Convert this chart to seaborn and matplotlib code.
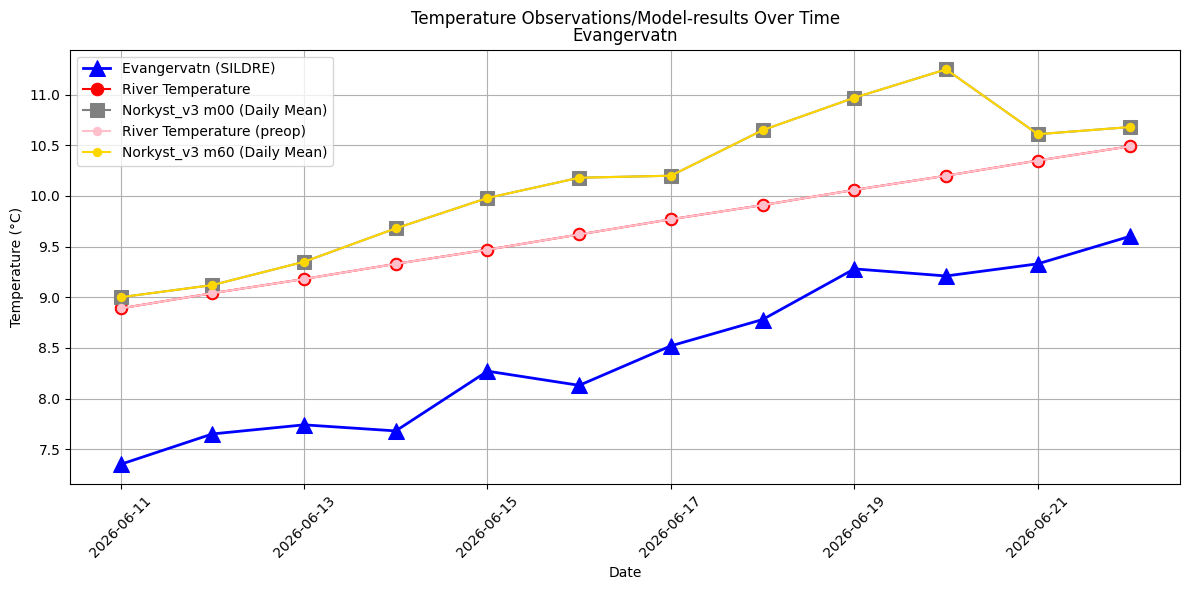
import seaborn as sns
import matplotlib.pyplot as plt
import pandas as pd

# Data
dates = pd.date_range("2026-06-11", "2026-06-22", freq="D")
sildre = [7.35, 7.65, 7.74, 7.68, 8.27, 8.13, 8.52, 8.78, 9.28, 9.21, 9.33, 9.60]
river = [8.89, 9.04, 9.18, 9.33, 9.47, 9.62, 9.77, 9.91, 10.06, 10.20, 10.35, 10.49]
norkyst_m00 = [9.00, 9.12, 9.35, 9.68, 9.98, 10.18, 10.20, 10.65, 10.97, 11.25, 10.61, 10.68]
river_preop = river
norkyst_m60 = norkyst_m00

fig, ax = plt.subplots(figsize=(12, 6), dpi=100)

sns.lineplot(x=dates, y=sildre, ax=ax, color='blue', marker='^', markersize=12,
             linewidth=2, markeredgecolor='blue', label='Evangervatn (SILDRE)')
sns.lineplot(x=dates, y=river, ax=ax, color='red', marker='o', markersize=9,
             markeredgecolor='red', label='River Temperature')
sns.lineplot(x=dates, y=norkyst_m00, ax=ax, color='gray', marker='s', markersize=10,
             markeredgecolor='gray', label='Norkyst_v3 m00 (Daily Mean)')
sns.lineplot(x=dates, y=river_preop, ax=ax, color='pink', marker='o', markersize=6,
             markeredgecolor='pink', label='River Temperature (preop)')
sns.lineplot(x=dates, y=norkyst_m60, ax=ax, color='gold', marker='o', markersize=6,
             markeredgecolor='gold', label='Norkyst_v3 m60 (Daily Mean)')

ax.set_title('Temperature Observations/Model-results Over Time\nEvangervatn',
             linespacing=0.95)
ax.set_xlabel('Date')
ax.set_ylabel('Temperature (°C)')
ax.set_xticks(dates[::2])
ax.set_xticklabels([d.strftime('%Y-%m-%d') for d in dates[::2]], rotation=45)
ax.grid(True)
ax.legend(loc='upper left')

plt.tight_layout()
plt.savefig('out.png', bbox_inches='tight')
